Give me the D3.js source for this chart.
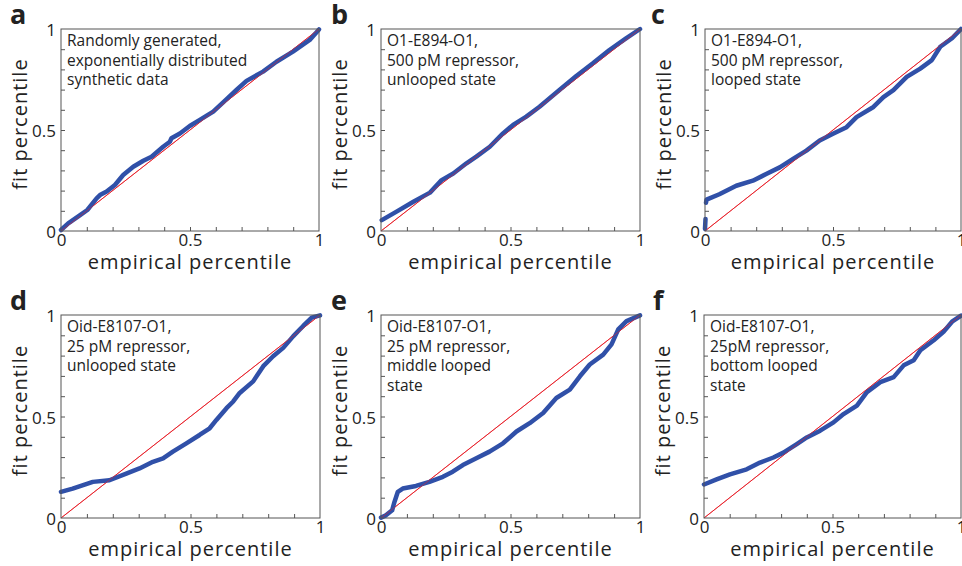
<!DOCTYPE html>
<html>
<head>
<meta charset="utf-8">
<script src="https://cdn.jsdelivr.net/npm/d3@7/dist/d3.min.js"></script>
<style>
  html, body { margin: 0; padding: 0; background: #fff; }
  svg { display: block; }
  text { font-family: "Open Sans", "Noto Sans", sans-serif; fill: #222; }
</style>
</head>
<body>
<svg id="chart" width="962" height="566"></svg>
<script>
// ---------------- data ----------------
const panelLetters = ["a", "b", "c", "d", "e", "f"];
const panelNotes = [
  ["Randomly generated,", "exponentially distributed", "synthetic data"],
  ["O1-E894-O1,", "500 pM repressor,", "unlooped state"],
  ["O1-E894-O1,", "500 pM repressor,", "looped state"],
  ["Oid-E8107-O1,", "25 pM repressor,", "unlooped state"],
  ["Oid-E8107-O1,", "25 pM repressor,", "middle looped", "state"],
  ["Oid-E8107-O1,", "25pM repressor,", "bottom looped", "state"]
];
const xTitle = "empirical percentile";
const yTitle = "fit percentile";
const majorTicks = [0, 0.5, 1];
const majorTickLabels = ["0", "0.5", "1"];
const minorTicks = [0.1, 0.2, 0.3, 0.4, 0.5, 0.6, 0.7, 0.8, 0.9];
const referenceLine = [[0, 0], [1, 1]];

// [empirical percentile, fit percentile]
const curveA = [[0,0.005],[0.028,0.038],[0.074,0.079],[0.102,0.104],[0.138,0.162],[0.151,0.178],[0.177,0.195],[0.209,0.228],[0.241,0.277],[0.28,0.318],[0.319,0.348],[0.351,0.368],[0.396,0.417],[0.422,0.442],[0.428,0.459],[0.461,0.483],[0.499,0.52],[0.538,0.55],[0.59,0.591],[0.641,0.652],[0.68,0.698],[0.719,0.743],[0.783,0.789],[0.835,0.838],[0.899,0.888],[0.964,0.946],[1,0.998]];
const curveB = [[0.003,0.054],[0.06,0.096],[0.125,0.145],[0.189,0.19],[0.234,0.252],[0.279,0.285],[0.33,0.335],[0.368,0.368],[0.42,0.417],[0.471,0.483],[0.51,0.525],[0.561,0.566],[0.612,0.615],[0.689,0.698],[0.754,0.767],[0.818,0.83],[0.882,0.896],[0.946,0.954],[1,1]];
const curveC = [[0,0.01],[0.002,0.06],null,[0.004,0.14],[0.006,0.155],[0.056,0.182],[0.122,0.224],[0.187,0.249],[0.239,0.282],[0.292,0.315],[0.344,0.357],[0.396,0.398],[0.448,0.448],[0.5,0.481],[0.553,0.514],[0.592,0.564],[0.658,0.614],[0.697,0.663],[0.736,0.697],[0.788,0.763],[0.841,0.804],[0.886,0.846],[0.919,0.912],[0.965,0.954],[1,1]];
const curveD = [[0,0.129],[0.045,0.145],[0.123,0.178],[0.187,0.186],[0.252,0.219],[0.303,0.244],[0.355,0.277],[0.394,0.294],[0.432,0.327],[0.484,0.368],[0.535,0.409],[0.574,0.442],[0.6,0.483],[0.639,0.541],[0.665,0.574],[0.69,0.616],[0.742,0.673],[0.781,0.748],[0.819,0.797],[0.858,0.838],[0.897,0.896],[0.935,0.946],[0.968,0.987],[1,0.998]];
const curveE = [[0,0.002],[0.019,0.013],[0.043,0.038],[0.052,0.079],[0.065,0.129],[0.084,0.145],[0.135,0.158],[0.187,0.178],[0.239,0.203],[0.277,0.228],[0.316,0.261],[0.368,0.294],[0.419,0.327],[0.471,0.368],[0.523,0.426],[0.574,0.467],[0.626,0.517],[0.677,0.591],[0.729,0.632],[0.768,0.698],[0.806,0.756],[0.858,0.805],[0.89,0.855],[0.916,0.929],[0.948,0.97],[1,0.998]];
const curveF = [[0,0.165],[0.049,0.19],[0.101,0.215],[0.166,0.24],[0.218,0.273],[0.27,0.298],[0.309,0.322],[0.361,0.364],[0.4,0.397],[0.452,0.43],[0.504,0.471],[0.543,0.512],[0.595,0.554],[0.634,0.62],[0.686,0.669],[0.738,0.694],[0.777,0.752],[0.816,0.777],[0.842,0.826],[0.894,0.876],[0.932,0.917],[0.965,0.967],[1,0.997]];
const curves = [curveA, curveB, curveC, curveD, curveE, curveF];

// ---------------- layout ----------------
const plotBoxes = [
  {x0: 61, x1: 319, y0: 29, y1: 231},
  {x0: 381, x1: 640, y0: 29, y1: 231},
  {x0: 705, x1: 961, y0: 29, y1: 231},
  {x0: 61, x1: 320, y0: 315, y1: 518},
  {x0: 381, x1: 640, y0: 315, y1: 518},
  {x0: 704, x1: 961, y0: 315, y1: 518}
];
const letterPos = [[10, 24], [331, 24], [651, 24], [10, 310], [331, 310], [653, 310]];

const svg = d3.select("#chart");
const axisColor = "#555";

plotBoxes.forEach((b, i) => {
  const x = d3.scaleLinear().domain([0, 1]).range([b.x0, b.x1]);
  const y = d3.scaleLinear().domain([0, 1]).range([b.y1, b.y0]);
  const g = svg.append("g");

  // minor inward ticks (bottom & left)
  const xMinor = g.append("g").attr("transform", `translate(0,${b.y1})`)
    .call(d3.axisBottom(x).tickValues(minorTicks).tickSize(-4).tickFormat(""));
  const yMinor = g.append("g").attr("transform", `translate(${b.x0},0)`)
    .call(d3.axisLeft(y).tickValues(minorTicks).tickSize(-4).tickFormat(""));
  [xMinor, yMinor].forEach(a => {
    a.select(".domain").remove();
    a.selectAll("line").attr("stroke", axisColor).attr("stroke-width", 1);
  });

  // tick labels
  const xLab = g.append("g").attr("transform", `translate(0,${b.y1})`)
    .call(d3.axisBottom(x).tickValues(majorTicks).tickSize(0).tickPadding(3)
      .tickFormat((d, k) => majorTickLabels[k]));
  const yLab = g.append("g").attr("transform", `translate(${b.x0},0)`)
    .call(d3.axisLeft(y).tickValues(majorTicks).tickSize(0).tickPadding(5)
      .tickFormat((d, k) => majorTickLabels[k]));
  [xLab, yLab].forEach(a => {
    a.select(".domain").remove();
    a.selectAll("text").attr("font-family", "Open Sans, sans-serif")
      .attr("font-size", 17).attr("fill", "#222");
  });
  yLab.selectAll("text").attr("dy", "0.4em");

  // reference diagonal
  g.append("path").datum(referenceLine)
    .attr("d", d3.line().x(d => x(d[0])).y(d => y(d[1])))
    .attr("fill", "none").attr("stroke", "#e8202a").attr("stroke-width", 1);

  // data curve
  const line = d3.line().defined(d => d !== null).x(d => x(d[0])).y(d => y(d[1]));
  g.append("path").datum(curves[i])
    .attr("d", line)
    .attr("fill", "none").attr("stroke", "#3050a8").attr("stroke-width", 4.5)
    .attr("stroke-linejoin", "round").attr("stroke-linecap", "round");
  g.append("path").datum(referenceLine)
    .attr("d", d3.line().x(d => x(d[0])).y(d => y(d[1])))
    .attr("fill", "none").attr("stroke", "#e8202a").attr("stroke-width", 0.8)
    .attr("stroke-opacity", 0.7);

  // frame
  g.append("rect").attr("x", b.x0).attr("y", b.y0)
    .attr("width", b.x1 - b.x0).attr("height", b.y1 - b.y0)
    .attr("fill", "none").attr("stroke", axisColor).attr("stroke-width", 1);

  // notes
  const note = g.append("text").attr("font-size", 15.5).attr("fill", "#222");
  panelNotes[i].forEach((t, k) => {
    note.append("tspan").attr("x", b.x0 + 6).attr("y", b.y0 + 17 + k * 19.5).text(t);
  });

  // axis titles
  g.append("text").attr("x", (b.x0 + b.x1) / 2).attr("y", b.y1 + 38)
    .attr("text-anchor", "middle").attr("font-size", 20).attr("letter-spacing", 1)
    .text(xTitle);
  g.append("text")
    .attr("transform", `translate(${b.x0 - 34},${(b.y0 + b.y1) / 2 - 6}) rotate(-90)`)
    .attr("text-anchor", "middle").attr("font-size", 20).attr("letter-spacing", 1)
    .text(yTitle);

  // panel letter
  svg.append("text").attr("x", letterPos[i][0]).attr("y", letterPos[i][1])
    .attr("font-size", 27).attr("font-weight", "bold").attr("fill", "#111")
    .text(panelLetters[i]);
});
</script>
</body>
</html>
